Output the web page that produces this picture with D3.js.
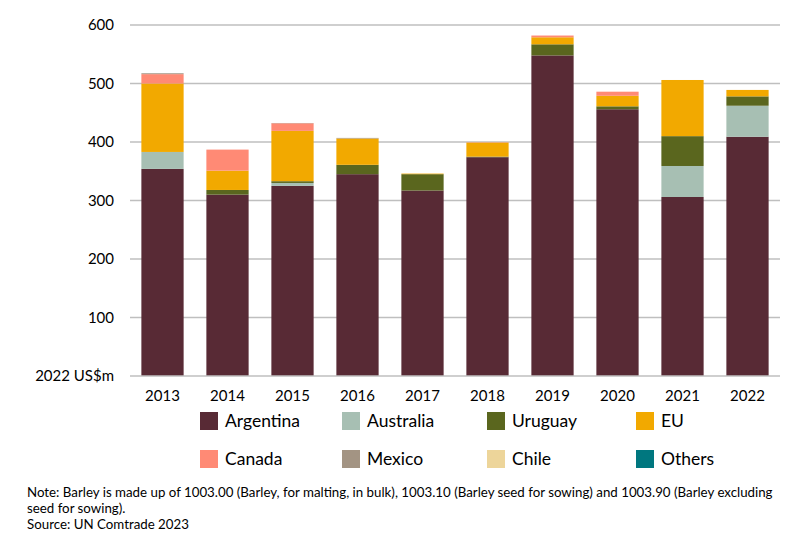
<!DOCTYPE html>
<html><head><meta charset="utf-8">
<script src="https://cdn.jsdelivr.net/npm/d3@7"></script>
<style>body{margin:0;background:#fff}svg{display:block}text{font-family:Lato,"Open Sans",sans-serif;fill:#000}</style>
</head><body><svg id="c" width="800" height="541"></svg>
<script>
const years = ["2013","2014","2015","2016","2017","2018","2019","2020","2021","2022"];
const seriesNames = ["Argentina","Australia","Uruguay","EU","Canada","Mexico","Chile","Others"];
const argentina = [354,310,325,345,317,374,548,456,306,409];
const australia = [29,0,5,0,0,0,0,0,53,53];
const uruguay   = [0,8,3,16,28,1,19,5,51,16];
const eu        = [117,33,86,45,1,24,12,18,96,11];
const canada    = [16,36,13,0,0,0.5,3,7,0,0];
const mexico    = [1.5,0,0.5,1,0,0,0,0,0,0];
const chile     = [0,0,0,0,0,0,0,0,0,0];
const others    = [0,0,0,0,0,0,0,0,0,0];
const yTicks = [100,200,300,400,500,600];
const colors = ["#582a35","#a7bfb3","#5a661e","#f2a900","#ff8a75","#a39483","#edd59a","#00777f"];

const seriesVals = [argentina,australia,uruguay,eu,canada,mexico,chile,others];
const rows = years.map((y,i)=>{const r={year:y};seriesNames.forEach((s,k)=>r[s]=seriesVals[k][i]);return r;});
const stack = d3.stack().keys(seriesNames)(rows);

const svg = d3.select("#c");
const x = d3.scaleBand().domain(years).range([130,780]).paddingInner(0.35).paddingOuter(0.175);
const y = d3.scaleLinear().domain([0,600]).range([376,25]);

svg.append("g").selectAll("line").data(yTicks).join("line")
  .attr("x1",130).attr("x2",780).attr("y1",d=>y(d)).attr("y2",d=>y(d))
  .attr("stroke","#bfbfbf").attr("stroke-width",1.3);

svg.append("g").selectAll("g").data(stack).join("g")
  .attr("fill",(d,i)=>colors[i])
  .selectAll("rect").data(d=>d).join("rect")
  .attr("x",d=>x(d.data.year)).attr("width",x.bandwidth())
  .attr("y",d=>y(d[1])).attr("height",d=>Math.max(0,y(d[0])-y(d[1])));

svg.append("line").attr("x1",130).attr("x2",780).attr("y1",y(0)).attr("y2",y(0))
  .attr("stroke","#bfbfbf").attr("stroke-width",1.3);

const yAxis = d3.axisLeft(y).tickValues(yTicks).tickSize(0).tickPadding(0);
const ga = svg.append("g").attr("transform","translate(114,0)").call(yAxis);
ga.select(".domain").remove();
ga.selectAll("text").attr("font-size",15).attr("font-family","Lato,sans-serif").attr("fill","#000");
svg.append("text").attr("x",114).attr("y",y(0)).attr("dy","0.35em").attr("text-anchor","end")
  .attr("font-size",15).text("2022 US$m");

const xAxis = d3.axisBottom(x).tickSize(0).tickPadding(0);
const gx = svg.append("g").attr("transform","translate(0,390)").call(xAxis);
gx.select(".domain").remove();
gx.selectAll("text").attr("font-size",15).attr("font-family","Lato,sans-serif").attr("fill","#000").attr("dy","0.71em");

const colX = [200,342,487,636];
const rowY = [421,459];
const lg = svg.append("g").selectAll("g").data(seriesNames).join("g")
  .attr("transform",(d,i)=>`translate(${colX[i%4]},${rowY[Math.floor(i/4)]})`);
lg.append("rect").attr("x",0).attr("y",-9).attr("width",18).attr("height",18).attr("fill",(d,i)=>colors[i]);
lg.append("text").attr("x",25).attr("y",0).attr("dy","0.35em").attr("font-size",17.5).text(d=>d);

const notes = ["Note: Barley is made up of 1003.00 (Barley, for malting, in bulk), 1003.10 (Barley seed for sowing) and 1003.90 (Barley excluding",
  "seed for sowing).","Source: UN Comtrade 2023"];
svg.append("g").selectAll("text").data(notes).join("text")
  .attr("x",27).attr("y",(d,i)=>497+i*16).attr("font-size",13.3).text(d=>d);
</script></body></html>
